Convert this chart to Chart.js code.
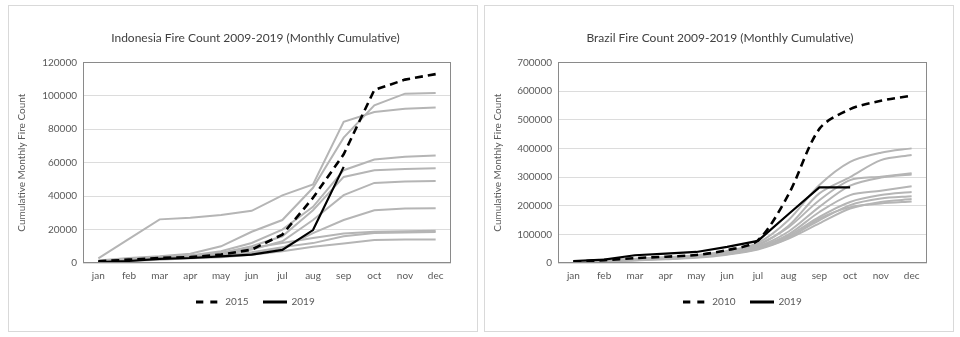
<!DOCTYPE html>
<html><head><meta charset="utf-8">
<script src="https://cdn.jsdelivr.net/npm/chart.js@4.4.1/dist/chart.umd.min.js"></script>
<style>
html,body{margin:0;padding:0;background:#fff;width:960px;height:337px;overflow:hidden;}
.panel{position:absolute;border:1px solid #d9d9d9;box-sizing:border-box;}
#p1{left:8px;top:5px;width:470px;height:327px;}
#p2{left:484px;top:5px;width:470px;height:327px;}
.cw{position:absolute;}
#w1{left:8px;top:5px;}
#w2{left:484px;top:5px;}
</style></head><body>
<div class="panel" id="p1"></div><div class="panel" id="p2"></div>
<div class="cw" id="w1"><canvas id="c1" width="495" height="326"></canvas></div>
<div class="cw" id="w2"><canvas id="c2" width="472" height="326"></canvas></div>
<script>
const months = ['jan','feb','mar','apr','may','jun','jul','aug','sep','oct','nov','dec'];

// Indonesia
const indonesiaYTicks = [0, 20000, 40000, 60000, 80000, 100000, 120000];
const indonesia2015 = [1000, 2000, 3000, 3500, 5000, 8000, 17000, 39000, 65000, 103500, 109700, 113000];
const indonesia2019 = [500, 1200, 2500, 3000, 4000, 5000, 7800, 19700, 57500, null, null, null];
const indonesiaOtherA = [2800, 14400, 26100, 27000, 28700, 31200, 40500, 47000, 84400, 90300, 92300, 93000];
const indonesiaOtherB = [1500, 3000, 4000, 5500, 10000, 18700, 25700, 45000, 75000, 94300, 101300, 101700];
const indonesiaOtherC = [1000, 2500, 3500, 4500, 7000, 12000, 20000, 33600, 55500, 61900, 63500, 64300];
const indonesiaOtherD = [800, 2000, 3000, 4000, 6000, 10000, 16000, 31600, 51500, 55500, 56300, 56700];
const indonesiaOtherE = [800, 2000, 3000, 3500, 5000, 8000, 13000, 25700, 40600, 47900, 48800, 49100];
const indonesiaOtherF = [600, 1500, 2500, 3000, 4000, 6000, 9000, 17900, 25700, 31600, 32600, 32800];
const indonesiaOtherG = [1000, 2500, 3500, 4500, 6000, 9000, 12000, 14900, 17700, 18700, 19000, 19300];
const indonesiaOtherH = [500, 1500, 2500, 3500, 4500, 6500, 9500, 11900, 16000, 18000, 18300, 18500];
const indonesiaOtherI = [400, 1200, 2000, 2800, 3500, 5000, 7000, 9700, 11700, 13700, 14000, 14100];

// Brazil
const brazilYTicks = [0, 100000, 200000, 300000, 400000, 500000, 600000, 700000];
const brazil2010 = [5000, 10000, 17000, 22000, 28000, 45000, 79000, 240000, 468000, 537000, 566000, 584000];
const brazil2019 = [7000, 12000, 27000, 33000, 38500, 56000, 77000, 171000, 264000, 264000, null, null];
const brazilOtherA = [5000, 9000, 15000, 20000, 27000, 42000, 70000, 150000, 272000, 353000, 385000, 400000];
const brazilOtherB = [4000, 8000, 13000, 18000, 24000, 38000, 62000, 130000, 243000, 300000, 359000, 377000];
const brazilOtherC = [4500, 8500, 14000, 19000, 26000, 40000, 65000, 125000, 219000, 289000, 301000, 313000];
const brazilOtherD = [3500, 7000, 12000, 16000, 22000, 35000, 58000, 110000, 196000, 270000, 298000, 309000];
const brazilOtherE = [3000, 6500, 11000, 15000, 21000, 33000, 55000, 100000, 178000, 237000, 252000, 268000];
const brazilOtherF = [3500, 7000, 11500, 16000, 22000, 34000, 52000, 95000, 161000, 213000, 237000, 248000];
const brazilOtherG = [3000, 6000, 10000, 14000, 20000, 31000, 50000, 90000, 149000, 202000, 225000, 233000];
const brazilOtherH = [2500, 5500, 9000, 13000, 18000, 29000, 47000, 85000, 138000, 190000, 213000, 223000];
const brazilOtherI = [3000, 6000, 10500, 15000, 21000, 32000, 50000, 88000, 155000, 195000, 208000, 215000];

const FONT = 'Lato, "Open Sans", sans-serif';
const TXT = '#595959';

const plotFrame = {
  id: 'plotFrame',
  afterDatasetsDraw(chart) {
    const {ctx, chartArea: a} = chart;
    ctx.save();
    ctx.strokeStyle = '#8a8a8a';
    ctx.lineWidth = 1;
    ctx.strokeRect(Math.round(a.left) + 0.5, Math.round(a.top) + 0.5,
                   Math.round(a.right - a.left) - 1, Math.round(a.bottom - a.top) - 1);
    ctx.restore();
  }
};

// small legend sample image: a line segment with the dataset's dash pattern
function lineSample(color, width, dash) {
  const c = document.createElement('canvas');
  c.width = 24; c.height = 4;
  const g = c.getContext('2d');
  g.strokeStyle = color; g.lineWidth = width; g.setLineDash(dash);
  g.beginPath(); g.moveTo(0, 2); g.lineTo(24, 2); g.stroke();
  return c;
}

function grayDs(data, tension) {
  return {label: 'other year', other: true, data, borderColor: '#b5b5b5', borderWidth: 2,
          pointRadius: 0, pointHoverRadius: 0, tension, fill: false};
}

function makeChart(id, cfg) {
  const datasets = [
    {label: cfg.dashLabel, data: cfg.dashData, borderColor: '#000', borderWidth: 2.6, borderDash: [8, 5],
     pointRadius: 0, pointHoverRadius: 0, tension: cfg.tension, fill: false,
     pointStyle: lineSample('#000', 3, [7, 7])},
    {label: cfg.solidLabel, data: cfg.solidData, borderColor: '#000', borderWidth: 2.2,
     pointRadius: 0, pointHoverRadius: 0, tension: 0, fill: false,
     pointStyle: lineSample('#000', 3, [])},
    ...cfg.others.map(d => grayDs(d, cfg.tension))
  ];
  const ticks = cfg.yTicks;
  return new Chart(document.getElementById(id), {
    type: 'line',
    data: {labels: months, datasets},
    plugins: [plotFrame],
    options: {
      responsive: false,
      animation: false,
      devicePixelRatio: 1,
      layout: {padding: {left: 0, right: 0, top: 0, bottom: 14}},
      plugins: {
        title: {display: true, text: cfg.title, color: '#404040',
                font: {family: FONT, size: 12, weight: 'normal'},
                padding: {top: 26, bottom: 17}},
        legend: {position: 'bottom', fullSize: cfg.legendFull,
                 labels: {color: TXT, font: {family: FONT, size: 10}, usePointStyle: true,
                          pointStyleWidth: 24, padding: 14,
                          filter: (item, data) => !data.datasets[item.datasetIndex].other}},
        tooltip: {enabled: false}
      },
      scales: {
        x: {offset: true, grid: {display: false, drawTicks: false}, border: {display: false},
            ticks: {color: TXT, font: {family: FONT, size: 10}, padding: 7, maxRotation: 0, autoSkip: false},
            afterFit(s) { s.height = 20; }},
        y: {min: ticks[0], max: ticks[ticks.length - 1],
            grid: {color: '#dcdcdc', drawTicks: false}, border: {display: false},
            ticks: {stepSize: ticks[1] - ticks[0], color: TXT, font: {family: FONT, size: 10}, padding: 6,
                    callback: v => String(v)},
            title: {display: true, text: 'Cumulative Monthly Fire Count', color: TXT,
                    font: {family: FONT, size: 10}, padding: {top: 8, bottom: 0}},
            afterFit(s) { s.width = cfg.leftW; }},
        yR: {position: 'right', display: true, grid: {display: false, drawTicks: false}, border: {display: false},
             ticks: {display: false}, afterFit(s) { s.width = cfg.rightW; }}
      }
    }
  });
}

makeChart('c1', {
  title: 'Indonesia Fire Count 2009-2019 (Monthly Cumulative)',
  dashLabel: '2015', dashData: indonesia2015,
  solidLabel: '2019', solidData: indonesia2019,
  others: [indonesiaOtherA, indonesiaOtherB, indonesiaOtherC, indonesiaOtherD, indonesiaOtherE,
           indonesiaOtherF, indonesiaOtherG, indonesiaOtherH, indonesiaOtherI],
  yTicks: indonesiaYTicks, tension: 0, leftW: 75, rightW: 52, legendFull: true
});

makeChart('c2', {
  title: 'Brazil Fire Count 2009-2019 (Monthly Cumulative)',
  dashLabel: '2010', dashData: brazil2010,
  solidLabel: '2019', solidData: brazil2019,
  others: [brazilOtherA, brazilOtherB, brazilOtherC, brazilOtherD, brazilOtherE,
           brazilOtherF, brazilOtherG, brazilOtherH, brazilOtherI],
  yTicks: brazilYTicks, tension: 0.3, leftW: 74, rightW: 29, legendFull: false
});
</script>
</body></html>
